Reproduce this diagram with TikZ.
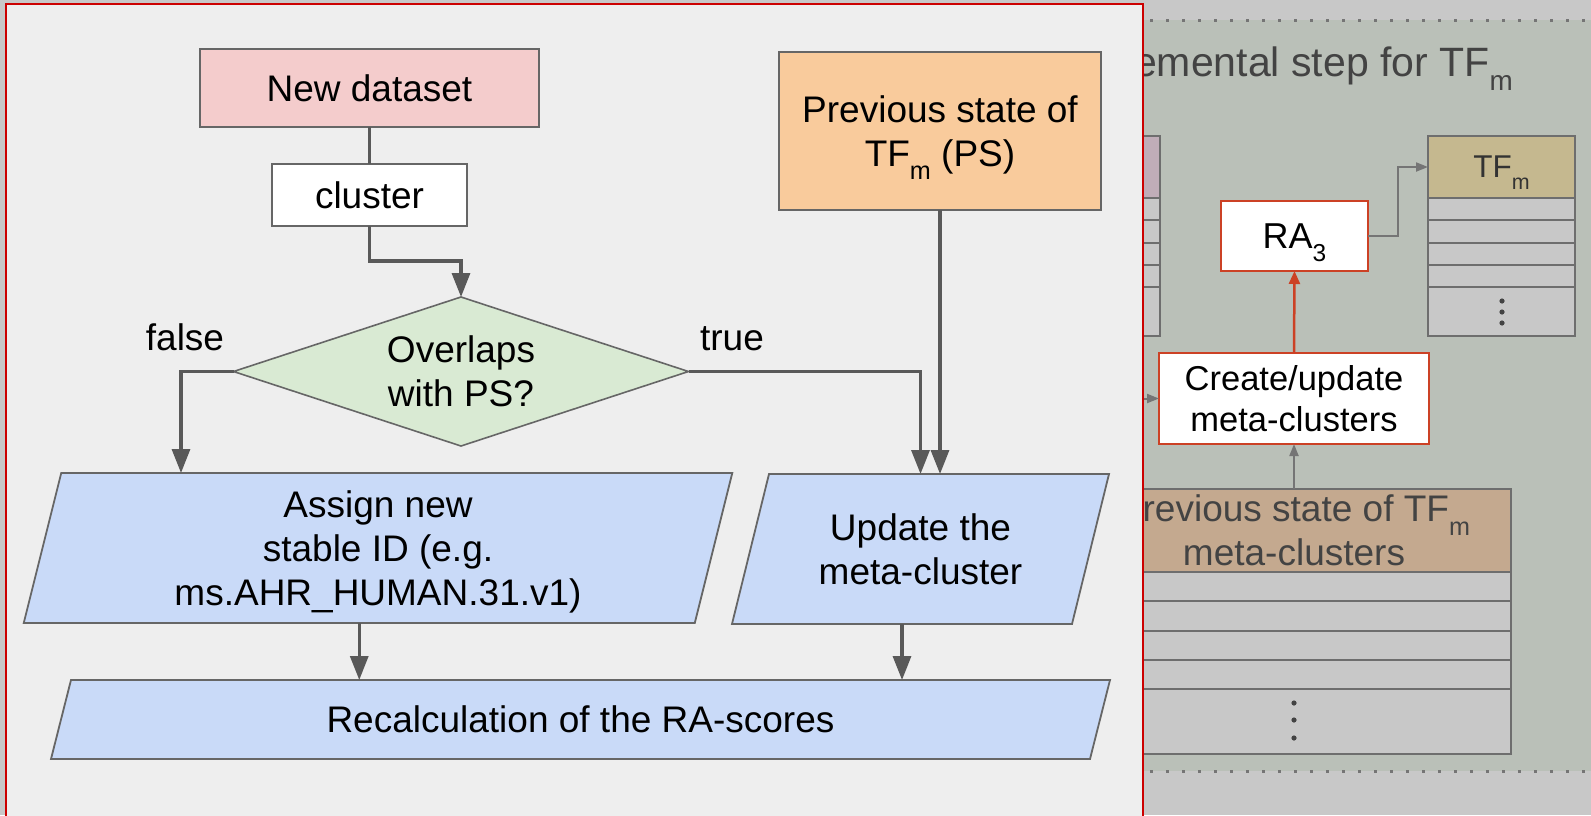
\documentclass[tikz,border=0pt]{standalone}
\usepackage{fontspec}
\setmainfont{Liberation Sans}
\usepackage{graphicx}
\usepackage{xcolor}
\usetikzlibrary{shapes.geometric,arrows.meta,backgrounds}

\definecolor{outergray}{HTML}{C8C8C8}
\definecolor{leftpanel}{HTML}{EEEEEE}
\definecolor{rightpanel}{HTML}{BAC0B8}
\definecolor{framered}{HTML}{CC0000}
\definecolor{linegray}{HTML}{666666}
\definecolor{arrowgray}{HTML}{595959}
\definecolor{datapink}{HTML}{F4CCCC}
\definecolor{statepeach}{HTML}{F9CB9C}
\definecolor{decidegreen}{HTML}{D9EAD3}
\definecolor{actionblue}{HTML}{C9DAF8}
\definecolor{rowgray}{HTML}{C8C8C8}
\definecolor{tablegray}{HTML}{6E6E6E}
\definecolor{tftan}{HTML}{C5B88F}
\definecolor{mcbrown}{HTML}{C4A98F}
\definecolor{oldmauve}{HTML}{C0ADB8}
\definecolor{rared}{HTML}{CC4125}
\definecolor{thingray}{HTML}{757575}
\definecolor{textgray}{HTML}{434343}

\newcommand{\lowsub}[1]{\raisebox{-0.36em}{\scalebox{0.68}{#1}}}

\begin{document}
\begin{tikzpicture}[x=1pt, y=-1pt,
	box/.style={
		draw=linegray, line width=1.8pt, rectangle,
		inner sep=0pt, outer sep=0pt, align=center, text depth=0pt,
		font=\fontsize{37}{44}\selectfont
	},
	decide/.style={
		draw=linegray, line width=1.6pt, diamond, aspect=3, fill=decidegreen,
		minimum width=455pt, minimum height=149pt,
		inner sep=0pt, outer sep=0pt, align=center, text depth=0pt,
		font=\fontsize{37}{44}\selectfont
	},
	action/.style={
		rectangle, inner sep=0pt, outer sep=0pt, align=center, text depth=0pt,
		font=\fontsize{37}{44}\selectfont
	},
	actionshape/.style={draw=linegray, line width=1.8pt, fill=actionblue},
	lbl/.style={inner sep=0pt, font=\fontsize{37}{44}\selectfont},
	arr/.style={draw=arrowgray, line width=3.3pt, -{Triangle[width=18pt,length=24pt]}},
	link/.style={draw=arrowgray, line width=3.3pt},
	steptitle/.style={inner sep=0pt, text=textgray, font=\fontsize{41}{48}\selectfont},
	ops/.style={
		draw=rared, line width=2pt, fill=white, rectangle,
		inner sep=0pt, outer sep=0pt, align=center, text depth=0pt,
		font=\fontsize{34.5}{41}\selectfont
	},
	thead/.style={
		draw=tablegray, line width=2pt, rectangle,
		inner sep=0pt, outer sep=0pt, align=center, text depth=0pt, text=textgray
	},
	trow/.style={draw=tablegray, line width=2pt, fill=rowgray},
	grayarr/.style={draw=thingray, line width=2pt, -{Triangle[width=9pt,length=12pt]}},
	redarr/.style={draw=rared, line width=2.5pt, -{Triangle[width=11pt,length=13pt]}},
	]
	
	\useasboundingbox (0,0) rectangle (1591,815);
	
	% Panels
	\begin{scope}[on background layer]
		\fill[outergray] (0,0) rectangle (1591,815);
		\fill[rightpanel] (1143,20) rectangle (1591,771);
		\draw[thingray, line width=3pt, dash pattern=on 3pt off 13pt] (1150,20) -- (1591,20);
		\draw[thingray, line width=3pt, dash pattern=on 3pt off 13pt] (1150,771) -- (1591,771);
		\draw[framered, line width=2pt, fill=leftpanel] (6,4) rectangle (1143,818);
	\end{scope}
	
	% Incremental step panel (x > 1143), partly under the flowchart
	\begin{scope}
		\clip (1144,0) rectangle (1591,815);
		\node[steptitle, anchor=base east] (inctitle) at (1513,76) {Incremental step for TF\lowsub{m}};
		
		% old table (hidden)
		\node[thead, fill=oldmauve, minimum width=148pt, minimum height=62pt] (oldhead) at (1086,167) {};
		\foreach \t/\b in {198/220, 220/243, 243/265, 265/287, 287/336}
			\draw[trow] (1012,\t) rectangle (1160,\b);
		
		% TF_m table
		\node[thead, fill=tftan, minimum width=147pt, minimum height=62pt,
			text=black!80, font=\fontsize{31.5}{38}\selectfont] (tfhead) at (1501.5,167) {TF\lowsub{m}};
		\foreach \t/\b in {198/220, 220/243, 243/265, 265/287, 287/336}
			\draw[trow] (1428,\t) rectangle (1575,\b);
		\foreach \y in {301, 312, 323}
			\fill[textgray] (1502,\y) circle (2.6pt);
		
		% RA_3 and meta-cluster update
		\node[ops, minimum width=147pt, minimum height=70pt,
			font=\fontsize{36}{43}\selectfont] (ra) at (1294.5,236) {RA\lowsub{3}};
		\node[ops, fill=white, minimum width=270pt, minimum height=91pt] (mcupdate) at (1294,398.5) {Create/update\\meta-clusters};
		
		% previous meta-clusters table
		\node[thead, fill=mcbrown, minimum width=434pt, minimum height=83pt,
			font=\fontsize{37}{44}\selectfont] (mchead) at (1294,530.5) {Previous state of TF\lowsub{m}\\meta-clusters};
		\foreach \t/\b in {572/601, 601/631, 631/660, 660/689, 689/754}
			\draw[trow] (1077,\t) rectangle (1511,\b);
		\foreach \y in {703, 720, 738}
			\fill[textgray] (1294,\y) circle (2.6pt);
		
		\coordinate (feedin) at (1100,398.5);
		\draw[grayarr] (feedin) -- (mcupdate.west);
		\draw[grayarr] (mchead.north) -- (mcupdate.south);
		\draw[redarr] (mcupdate.north) -- (ra.south);
		\draw[grayarr] (ra.east) -- ++(30,0) |- (tfhead.west);
	\end{scope}
	
	% Flowchart: inputs
	\node[box, fill=datapink, minimum width=339pt, minimum height=78pt] (newdata) at (369.5,88) {New dataset};
	\node[box, fill=white, minimum width=195pt, minimum height=62pt] (cluster) at (369.5,195) {cluster};
	\node[box, fill=statepeach, minimum width=322pt, minimum height=158pt] (prevps) at (940,131) {Previous state of\\TF\lowsub{m} (PS)};
	
	% Decision
	\node[decide] (overlap) at (461,371.5) {Overlaps\\with PS?};
	\node[lbl, anchor=base] (falselbl) at (185,350) {false};
	\node[lbl, anchor=base] (truelbl) at (732,350) {true};
	
	% Actions (parallelograms)
	\node[action, minimum width=671pt, minimum height=150pt] (assign) at (378,548) {Assign new\\stable ID (e.g.\\ms.AHR\_HUMAN.31.v1)};
	\node[action, minimum width=340pt, minimum height=150pt] (update) at (920.5,549) {Update the\\meta-cluster};
	\node[action, minimum width=1039pt, minimum height=79pt] (recalc) at (580.5,719.5) {Recalculation of the RA-scores};
	
	\begin{scope}[on background layer]
		\foreach \n/\s in {assign/18.75, update/18.5, recalc/10}
			\draw[actionshape] ([xshift=\s pt]\n.north west) -- ([xshift=\s pt]\n.north east)
				-- ([xshift=-\s pt]\n.south east) -- ([xshift=-\s pt]\n.south west) -- cycle;
	\end{scope}
	
	% Connectors
	\draw[link] (newdata) -- (cluster);
	\draw[arr] (cluster.south) -- ++(0,35) -| (overlap.north);
	\draw[arr] (overlap.west) -| ([xshift=-197pt]assign.north);
	\draw[arr] (overlap.east) -| (update.north);
	\draw[arr] (prevps.south) -- ([xshift=19.5pt]update.north);
	\draw[arr] ([xshift=-18.75pt]assign.south) -- ([xshift=-18.75pt]assign.south |- recalc.north);
	\draw[arr] ([xshift=-18.5pt]update.south) -- ([xshift=-18.5pt]update.south |- recalc.north);
	
\end{tikzpicture}
\end{document}
